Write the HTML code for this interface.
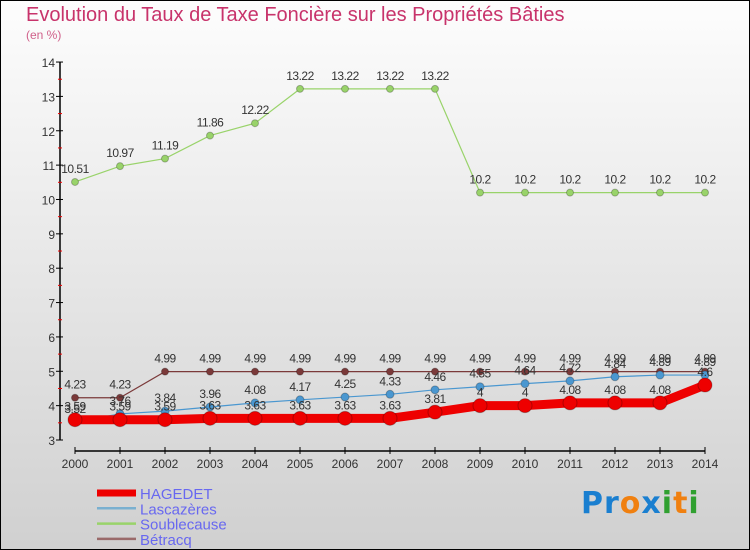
<!DOCTYPE html>
<html><head><meta charset="utf-8"><style>
html,body{margin:0;padding:0}
body{width:750px;height:550px;overflow:hidden;font-family:"Liberation Sans",sans-serif}
#wrap{position:relative;width:748px;height:548px;border:1px solid #000;background:linear-gradient(#fdfdfd,#d0d0d0)}
.t{position:absolute;color:#c8336b}
</style></head><body>
<div id="wrap">
<div class="t" style="left:25px;top:3px;font-size:20px">Evolution du Taux de Taxe Foncière sur les Propriétés Bâties</div>
<div class="t" style="left:25px;top:27px;font-size:12px;color:#d0608a">(en %)</div>
<svg id="chart" width="748" height="548" style="position:absolute;left:0;top:0"></svg>
<div style="position:absolute;left:580px;top:485px;font-size:30px;font-family:'DejaVu Sans',sans-serif;font-weight:bold;letter-spacing:1px"><span style="color:#1a7fd0">Pr</span><span style="color:#f08010">o</span><span style="color:#1a7fd0">x</span><span style="color:#30a030">i</span><span style="color:#f08010">t</span><span style="color:#30a030">i</span></div>
</div>
<script>
const years=[2000,2001,2002,2003,2004,2005,2006,2007,2008,2009,2010,2011,2012,2013,2014];
const hagedet=[3.59,3.59,3.59,3.63,3.63,3.63,3.63,3.63,3.81,4,4,4.08,4.08,4.08,4.6];
const lascazeres=[3.52,3.76,3.84,3.96,4.08,4.17,4.25,4.33,4.46,4.55,4.64,4.72,4.84,4.89,4.89];
const soublecause=[10.51,10.97,11.19,11.86,12.22,13.22,13.22,13.22,13.22,10.2,10.2,10.2,10.2,10.2,10.2];
const betracq=[4.23,4.23,4.99,4.99,4.99,4.99,4.99,4.99,4.99,4.99,4.99,4.99,4.99,4.99,4.99];
const yTicks=[3,4,5,6,7,8,9,10,11,12,13,14];
const NS="http://www.w3.org/2000/svg";
const svg=document.getElementById('chart');
const x=i=>74+i*45;
const y=v=>439-(v-3)*34.36;
function mk(t,a){const e=document.createElementNS(NS,t);for(const k in a)e.setAttribute(k,a[k]);svg.appendChild(e);return e;}
let e=mk('line',{x1:59,y1:y(14),x2:59,y2:y(3),stroke:'#000','stroke-width':1.5});


yTicks.forEach(v=>{
 let l=mk('line',{x1:55,y1:y(v),x2:62,y2:y(v),stroke:'#000'});
 
 
 if(v<14){let m=mk('line',{x1:57,y1:y(v+0.5),x2:61,y2:y(v+0.5),stroke:'#e00'});
 
 }
 let t=mk('text',{x:54,y:y(v)+5,'text-anchor':'end','font-size':12,fill:'#333'});
 t.textContent=v;
 
 
});
e=mk('line',{x1:x(0),y1:450,x2:x(14),y2:450,stroke:'#000','stroke-width':1.5});


years.forEach((yr,i)=>{
 let l=mk('line',{x1:x(i),y1:446,x2:x(i),y2:453,stroke:'#000'});
 
 
 let t=mk('text',{x:x(i),y:467,'text-anchor':'middle','font-size':12,fill:'#333'});
 t.textContent=yr;
 
 
});
function series(data,color,w,r,name,labels){
 let p=mk('polyline',{points:data.map((v,i)=>x(i)+','+y(v)).join(' '),fill:'none',stroke:color,'stroke-width':w});
 
 
 data.forEach((v,i)=>{
  let c=mk('circle',{cx:x(i),cy:y(v),r:r,fill:color,stroke:'rgba(0,0,0,0.25)'});
  
  
  if(labels){let t=mk('text',{x:x(i),y:y(v)-9,'text-anchor':'middle','font-size':12,fill:'#333','letter-spacing':'-0.5'});
  t.textContent=String(v);
  
  }
 });
}
series(soublecause,'#99d36a',1.2,3.5,'soublecause',true);
series(betracq,'#7b3a3a',1.2,3.5,'betracq',true);
series(lascazeres,'#4a97d0',1.2,4,'lascazeres',true);
series(hagedet,'#ee0000',9,7,'hagedet',true);
const legNames=['HAGEDET','Lascazères','Soublecause','Bétracq'];
const legColors=['#ee0000','#7ab0d0','#99d36a','#9a6a6a'];
legNames.forEach((n,i)=>{
 const yy=492+i*15.3;
 let l=mk('line',{x1:96,y1:yy,x2:135,y2:yy,stroke:legColors[i],'stroke-width':i===0?7:2.5});
 
 
 let t=mk('text',{x:139,y:yy+6,'font-size':15,fill:'#6868f0'});
 t.textContent=n;
 
 
});
</script>
</body></html>
